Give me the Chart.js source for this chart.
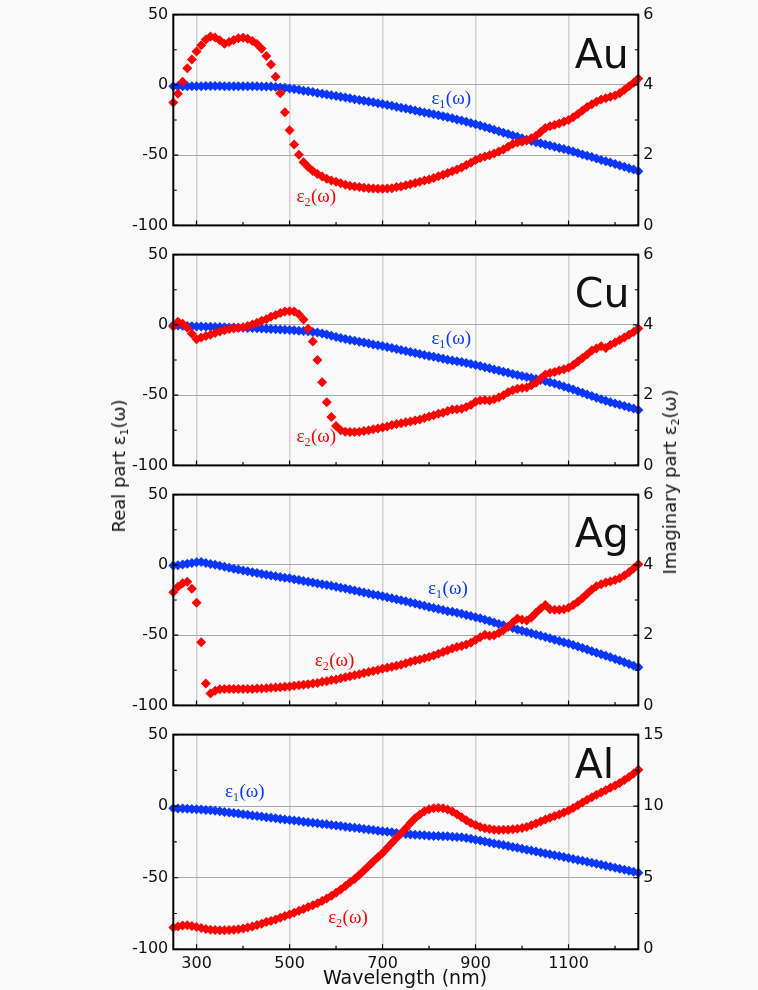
<!DOCTYPE html>
<html>
<head>
<meta charset="utf-8">
<title>Dielectric functions of Au, Cu, Ag and Al</title>
<script src="https://cdn.jsdelivr.net/npm/chart.js@4.4.1/dist/chart.umd.min.js"></script>
<style>
  html, body { margin: 0; padding: 0; background: #fafafa; }
  #wrap { position: relative; width: 758px; height: 990px; overflow: hidden; background: #fafafa; }
  #wrap canvas { position: absolute; left: 0; }
  .vt, .xt {
    position: absolute; white-space: nowrap; color: #111;
    font-family: "DejaVu Sans", sans-serif;
  }
  .vt { font-size: 18px; line-height: 18px; transform: translate(-50%, -50%) rotate(-90deg); }
  .xt { font-size: 19px; line-height: 19px; transform: translate(-50%, -50%); }
  .vt sub { font-size: 11px; line-height: 0; vertical-align: -3px; }
</style>
</head>
<body>
<div id="wrap">
  <canvas id="pAu" width="758" height="240" style="top:0px"></canvas>
  <canvas id="pCu" width="758" height="240" style="top:240px"></canvas>
  <canvas id="pAg" width="758" height="240" style="top:480px"></canvas>
  <canvas id="pAl" width="758" height="270" style="top:720px"></canvas>
  <div class="vt" style="left:118.5px; top:466px;">Real part ε<sub>1</sub>(ω)</div>
  <div class="vt" style="left:670px; top:482px;">Imaginary part ε<sub>2</sub>(ω)</div>
  <div class="xt" style="left:405px; top:977px;">Wavelength (nm)</div>
</div>
<script>
// Wavelength grid (nm)
const wavelength = [
  250,260,270,280,290,300,310,320,330,340,
  350,360,370,380,390,400,410,420,430,440,
  450,460,470,480,490,500,510,520,530,540,
  550,560,570,580,590,600,610,620,630,640,
  650,660,670,680,690,700,710,720,730,740,
  750,760,770,780,790,800,810,820,830,840,
  850,860,870,880,890,900,910,920,930,940,
  950,960,970,980,990,1000,1010,1020,1030,1040,
  1050,1060,1070,1080,1090,1100,1110,1120,1130,1140,
  1150,1160,1170,1180,1190,1200,1210,1220,1230,1240,
  1250
];

// Tick values
const wavelengthTicks = [300, 500, 700, 900, 1100];
const wavelengthMinorTicks = [400, 600, 800, 1000, 1200];
const realTicks = [-100, -50, 0, 50];
const realMinorTicks = [-75, -25, 25];
const imagTicks6 = [0, 2, 4, 6];
const imagMinorTicks6 = [1, 3, 5];
const imagTicks15 = [0, 5, 10, 15];
const imagMinorTicks15 = [2.5, 7.5, 12.5];

// Gold
const auEps1 = [
  -1.0,-1.0,-1.0,-1.0,-1.0,-0.9,-0.9,-0.8,-0.8,-0.8,
  -0.8,-0.9,-0.9,-0.9,-0.9,-1.0,-1.0,-1.0,-1.0,-1.1,
  -1.1,-1.2,-1.5,-1.8,-2.1,-2.5,-3.0,-3.5,-4.1,-4.6,
  -5.1,-5.7,-6.3,-6.8,-7.4,-7.9,-8.5,-9.0,-9.6,-10.2,
  -10.8,-11.3,-11.9,-12.4,-13.0,-13.6,-14.3,-14.9,-15.6,-16.2,
  -16.9,-17.5,-18.2,-18.9,-19.6,-20.2,-20.9,-21.6,-22.3,-23.0,
  -23.8,-24.6,-25.4,-26.3,-27.1,-28.0,-28.9,-29.9,-30.9,-31.9,
  -33.0,-34.0,-35.0,-36.0,-37.0,-38.0,-39.0,-39.9,-40.8,-41.6,
  -42.4,-43.2,-44.1,-44.9,-45.7,-46.5,-47.5,-48.5,-49.5,-50.5,
  -51.4,-52.4,-53.4,-54.4,-55.3,-56.3,-57.3,-58.3,-59.3,-60.3,
  -61.4
];
const auEps2 = [
  3.50,3.75,4.09,4.47,4.72,4.95,5.13,5.29,5.38,5.35,
  5.27,5.17,5.22,5.28,5.33,5.34,5.31,5.25,5.16,5.03,
  4.82,4.58,4.23,3.76,3.22,2.71,2.30,2.01,1.80,1.66,
  1.55,1.46,1.39,1.33,1.28,1.24,1.20,1.16,1.13,1.11,
  1.09,1.07,1.06,1.05,1.04,1.04,1.05,1.06,1.09,1.11,
  1.14,1.17,1.21,1.24,1.28,1.31,1.35,1.40,1.44,1.49,
  1.54,1.59,1.65,1.72,1.78,1.86,1.92,1.96,2.00,2.05,
  2.10,2.16,2.24,2.32,2.36,2.38,2.42,2.48,2.55,2.66,
  2.77,2.82,2.86,2.90,2.95,3.00,3.08,3.17,3.27,3.37,
  3.45,3.52,3.58,3.62,3.66,3.70,3.76,3.86,3.96,4.06,
  4.18
];

// Copper
const cuEps1 = [
  -0.3,-0.5,-0.7,-0.8,-1.0,-1.1,-1.2,-1.3,-1.4,-1.5,
  -1.6,-1.7,-1.8,-1.9,-2.0,-2.1,-2.2,-2.3,-2.4,-2.6,
  -2.7,-2.9,-3.1,-3.3,-3.5,-3.7,-3.9,-4.1,-4.4,-4.6,
  -5.0,-5.5,-6.1,-6.9,-7.8,-8.6,-9.3,-10.0,-10.7,-11.3,
  -12.0,-12.6,-13.3,-13.9,-14.5,-15.1,-15.8,-16.5,-17.2,-17.9,
  -18.6,-19.3,-20.0,-20.7,-21.4,-22.1,-22.7,-23.4,-24.1,-24.8,
  -25.4,-25.9,-26.5,-27.1,-27.8,-28.5,-29.3,-30.1,-30.9,-31.7,
  -32.5,-33.3,-34.1,-34.9,-35.7,-36.4,-37.1,-37.8,-38.5,-39.2,
  -40.0,-40.9,-41.8,-42.8,-43.8,-44.9,-46.0,-47.2,-48.3,-49.5,
  -50.7,-51.9,-53.0,-54.0,-55.0,-56.0,-56.9,-57.8,-58.7,-59.6,
  -60.5
];
const cuEps2 = [
  3.95,4.09,4.03,3.92,3.75,3.59,3.64,3.68,3.72,3.77,
  3.81,3.85,3.88,3.90,3.92,3.93,3.97,4.01,4.06,4.12,
  4.16,4.23,4.28,4.34,4.38,4.39,4.38,4.30,4.15,3.89,
  3.53,3.00,2.37,1.80,1.38,1.12,1.00,0.96,0.95,0.95,
  0.96,0.98,1.00,1.03,1.05,1.08,1.11,1.15,1.18,1.20,
  1.23,1.25,1.28,1.31,1.35,1.39,1.43,1.47,1.50,1.55,
  1.59,1.60,1.61,1.66,1.72,1.81,1.85,1.86,1.85,1.88,
  1.93,2.00,2.08,2.14,2.18,2.20,2.22,2.28,2.35,2.47,
  2.59,2.63,2.66,2.70,2.74,2.78,2.86,2.96,3.06,3.16,
  3.27,3.33,3.39,3.34,3.43,3.50,3.57,3.64,3.72,3.80,
  3.90
];

// Silver
const agEps1 = [
  -0.5,-0.2,0.3,0.8,1.3,1.8,2.0,1.3,0.6,0.0,
  -0.7,-1.3,-2.0,-2.7,-3.3,-4.0,-4.6,-5.2,-5.8,-6.5,
  -7.1,-7.6,-8.1,-8.6,-9.1,-9.6,-10.2,-10.8,-11.4,-12.0,
  -12.6,-13.2,-13.8,-14.3,-14.9,-15.5,-16.2,-16.9,-17.6,-18.3,
  -19.0,-19.7,-20.4,-21.1,-21.7,-22.4,-23.1,-23.8,-24.5,-25.2,
  -25.9,-26.7,-27.5,-28.3,-29.1,-29.9,-30.7,-31.4,-32.2,-33.0,
  -33.3,-34.0,-34.8,-35.6,-36.4,-37.2,-38.0,-39.0,-40.0,-41.0,
  -42.0,-43.0,-44.0,-45.0,-46.0,-46.9,-47.8,-48.7,-49.6,-50.5,
  -51.4,-52.3,-53.2,-54.1,-55.0,-56.0,-57.0,-58.1,-59.2,-60.3,
  -61.4,-62.5,-63.6,-64.7,-65.8,-66.9,-68.1,-69.3,-70.5,-71.7,
  -72.9
];
const agEps2 = [
  3.22,3.38,3.48,3.52,3.32,2.92,1.80,0.62,0.34,0.42,
  0.46,0.47,0.47,0.47,0.47,0.47,0.47,0.47,0.48,0.48,
  0.49,0.50,0.51,0.52,0.53,0.54,0.56,0.57,0.59,0.60,
  0.62,0.64,0.67,0.69,0.72,0.74,0.77,0.80,0.83,0.86,
  0.89,0.92,0.95,0.98,1.01,1.04,1.07,1.10,1.13,1.16,
  1.20,1.24,1.28,1.31,1.34,1.38,1.42,1.47,1.52,1.57,
  1.62,1.66,1.69,1.73,1.78,1.86,1.94,2.01,1.98,2.00,
  2.06,2.14,2.24,2.36,2.47,2.44,2.42,2.50,2.64,2.76,
  2.86,2.74,2.72,2.72,2.74,2.78,2.86,2.95,3.06,3.18,
  3.30,3.39,3.45,3.50,3.53,3.57,3.62,3.70,3.79,3.90,
  4.02
];

// Aluminium
const alEps1 = [
  -1.5,-1.6,-1.7,-1.8,-1.9,-2.1,-2.3,-2.6,-2.9,-3.2,
  -3.6,-4.0,-4.4,-4.8,-5.2,-5.6,-6.0,-6.5,-6.9,-7.3,
  -7.7,-8.1,-8.5,-8.9,-9.3,-9.6,-10.0,-10.4,-10.8,-11.2,
  -11.6,-12.0,-12.4,-12.7,-13.1,-13.5,-13.9,-14.3,-14.7,-15.1,
  -15.5,-15.9,-16.3,-16.7,-17.1,-17.5,-17.9,-18.3,-18.7,-19.1,
  -19.5,-19.8,-20.0,-20.2,-20.4,-20.6,-20.8,-20.9,-21.0,-21.1,
  -21.3,-21.5,-21.8,-22.2,-22.8,-23.4,-24.0,-24.7,-25.3,-26.0,
  -26.6,-27.2,-27.8,-28.5,-29.1,-29.8,-30.4,-31.0,-31.7,-32.3,
  -33.0,-33.6,-34.3,-34.9,-35.6,-36.2,-36.9,-37.6,-38.2,-38.9,
  -39.6,-40.3,-41.0,-41.6,-42.3,-43.0,-43.7,-44.4,-45.1,-45.8,
  -46.5
];
const alEps2 = [
  1.52,1.60,1.66,1.68,1.63,1.56,1.48,1.42,1.37,1.34,
  1.33,1.33,1.34,1.36,1.40,1.45,1.52,1.60,1.69,1.79,
  1.90,1.98,2.09,2.20,2.32,2.44,2.56,2.69,2.82,2.95,
  3.08,3.22,3.37,3.55,3.74,3.95,4.18,4.42,4.68,4.92,
  5.20,5.50,5.82,6.13,6.43,6.72,7.08,7.43,7.78,8.10,
  8.45,8.82,9.15,9.42,9.64,9.78,9.86,9.88,9.85,9.77,
  9.63,9.43,9.22,9.01,8.83,8.68,8.55,8.46,8.40,8.36,
  8.34,8.35,8.36,8.38,8.42,8.47,8.55,8.66,8.79,8.93,
  9.06,9.19,9.31,9.42,9.55,9.70,9.88,10.06,10.25,10.44,
  10.62,10.79,10.96,11.12,11.28,11.44,11.62,11.82,12.04,12.28,
  12.55
];

// Styling
const BLUE = '#0a37ff';
const RED = '#ff0000';
const INK = '#111111';
const TICK_FONT = { family: 'DejaVu Sans', size: 16 };

// Panel setup: label anchors are [wavelength, real-axis value]
const panels = [
  { id: 'pAu', name: 'Au', e1: auEps1, e2: auEps2, e2Max: 6,  e2Ticks: imagTicks6,  e2Minor: imagMinorTicks6,
    nameDrop: 53, eps1At: [805, -13.5], eps2At: [515, -83.5], last: false },
  { id: 'pCu', name: 'Cu', e1: cuEps1, e2: cuEps2, e2Max: 6,  e2Ticks: imagTicks6,  e2Minor: imagMinorTicks6,
    nameDrop: 52, eps1At: [805, -13.5], eps2At: [515, -83.5], last: false },
  { id: 'pAg', name: 'Ag', e1: agEps1, e2: agEps2, e2Max: 6,  e2Ticks: imagTicks6,  e2Minor: imagMinorTicks6,
    nameDrop: 52, eps1At: [798, -20.5], eps2At: [554, -72], last: false },
  { id: 'pAl', name: 'Al', e1: alEps1, e2: alEps2, e2Max: 15, e2Ticks: imagTicks15, e2Minor: imagMinorTicks15,
    nameDrop: 43, eps1At: [361, 6.5], eps2At: [583, -81.5], last: true }
];

function drawEpsLabel(ctx, x, y, digit, color) {
  ctx.fillStyle = color;
  ctx.textAlign = 'left';
  ctx.textBaseline = 'alphabetic';
  ctx.font = '19px "Liberation Serif"';
  ctx.fillText('ε', x, y);
  x += ctx.measureText('ε').width;
  ctx.font = '12px "Liberation Serif"';
  ctx.fillText(digit, x, y + 4);
  x += ctx.measureText(digit).width + 0.5;
  ctx.font = '19px "Liberation Serif"';
  ctx.fillText('(ω)', x, y);
}

function framePlugin(p) {
  return {
    id: 'frame',
    afterDatasetsDraw(chart) {
      const { ctx, chartArea: a, scales } = chart;
      const xs = scales.x, ys = scales.y, y2s = scales.y2;
      ctx.save();
      ctx.strokeStyle = '#000';
      ctx.lineWidth = 1.2;
      ctx.beginPath();
      // inward tick marks on the bottom axis
      wavelengthTicks.forEach(v => { const px = xs.getPixelForValue(v); ctx.moveTo(px, a.bottom); ctx.lineTo(px, a.bottom - 5); });
      wavelengthMinorTicks.forEach(v => { const px = xs.getPixelForValue(v); ctx.moveTo(px, a.bottom); ctx.lineTo(px, a.bottom - 3.5); });
      // left axis
      realTicks.forEach(v => { const py = ys.getPixelForValue(v); ctx.moveTo(a.left, py); ctx.lineTo(a.left + 5, py); });
      realMinorTicks.forEach(v => { const py = ys.getPixelForValue(v); ctx.moveTo(a.left, py); ctx.lineTo(a.left + 3.5, py); });
      // right axis
      p.e2Ticks.forEach(v => { const py = y2s.getPixelForValue(v); ctx.moveTo(a.right, py); ctx.lineTo(a.right - 5, py); });
      p.e2Minor.forEach(v => { const py = y2s.getPixelForValue(v); ctx.moveTo(a.right, py); ctx.lineTo(a.right - 3.5, py); });
      ctx.stroke();
      // plot frame
      ctx.lineWidth = 2;
      ctx.strokeRect(a.left, a.top, a.right - a.left, a.bottom - a.top);
      // metal name
      ctx.fillStyle = INK;
      ctx.font = '41px "DejaVu Sans"';
      ctx.textAlign = 'left';
      ctx.textBaseline = 'alphabetic';
      ctx.fillText(p.name, a.left + 401.5, a.top + p.nameDrop);
      // curve labels
      drawEpsLabel(ctx, xs.getPixelForValue(p.eps1At[0]), ys.getPixelForValue(p.eps1At[1]), '1', BLUE);
      drawEpsLabel(ctx, xs.getPixelForValue(p.eps2At[0]), ys.getPixelForValue(p.eps2At[1]), '2', RED);
      ctx.restore();
    }
  };
}

function buildPanel(p) {
  const ctx = document.getElementById(p.id).getContext('2d');
  const pointStyleOpts = { pointStyle: 'rectRot', pointRadius: 5.0, pointBorderWidth: 0, pointHoverRadius: 5.0, showLine: false };
  return new Chart(ctx, {
    type: 'scatter',
    data: {
      datasets: [
        Object.assign({
          label: 'ε2(ω)', yAxisID: 'y2', clip: false,
          data: wavelength.map((w, i) => ({ x: w, y: p.e2[i] })),
          backgroundColor: RED, borderColor: RED, order: 0
        }, pointStyleOpts),
        Object.assign({
          label: 'ε1(ω)', yAxisID: 'y', clip: false,
          data: wavelength.map((w, i) => ({ x: w, y: p.e1[i] })),
          backgroundColor: BLUE, borderColor: BLUE, order: 1
        }, pointStyleOpts)
      ]
    },
    options: {
      responsive: false,
      animation: false,
      events: [],
      layout: { padding: { top: 11.7, bottom: 0, left: 0, right: 0 } },
      plugins: { legend: { display: false }, tooltip: { enabled: false } },
      scales: {
        x: {
          type: 'linear', min: 250, max: 1250,
          afterBuildTicks: s => { s.ticks = wavelengthTicks.map(v => ({ value: v })); },
          afterFit: s => { s.height = p.last ? 40.7 : 10.7; },
          grid: { color: 'rgba(0,0,0,0.15)', lineWidth: 1.6, drawTicks: false },
          border: { display: false },
          ticks: { display: p.last, padding: 5, font: TICK_FONT, color: INK, maxRotation: 0, autoSkip: false,
                   callback: v => String(v) }
        },
        y: {
          position: 'left', min: -100, max: 50,
          afterBuildTicks: s => { s.ticks = realTicks.map(v => ({ value: v })); },
          afterFit: s => { s.width = 173.3; },
          grid: {
            drawTicks: false, lineWidth: 1,
            color: c => (c.tick && (c.tick.value === 0 || c.tick.value === -50)) ? '#a8a8a8' : 'rgba(0,0,0,0)'
          },
          border: { display: false },
          ticks: { padding: 5, font: TICK_FONT, color: INK, callback: v => String(v) }
        },
        y2: {
          position: 'right', min: 0, max: p.e2Max,
          afterBuildTicks: s => { s.ticks = p.e2Ticks.map(v => ({ value: v })); },
          afterFit: s => { s.width = 119.7; },
          grid: { display: false, drawTicks: false },
          border: { display: false },
          ticks: { padding: 5, font: TICK_FONT, color: INK, callback: v => String(v) }
        }
      }
    },
    plugins: [framePlugin(p)]
  });
}

panels.forEach(buildPanel);
</script>
</body>
</html>
